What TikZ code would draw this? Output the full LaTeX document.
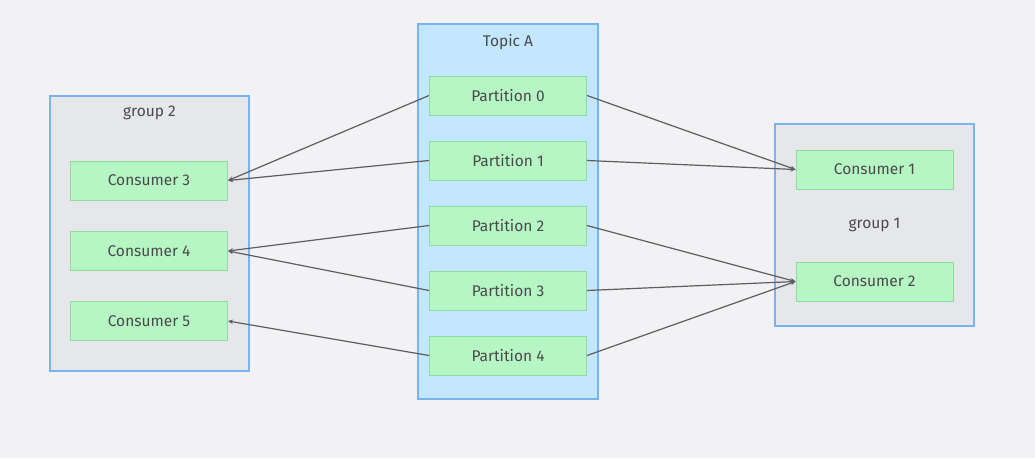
\documentclass[tikz,border=0pt]{standalone}
\usepackage{fontspec}
\setmainfont{Fira Sans}
\usetikzlibrary{arrows.meta}
\definecolor{bgc}{HTML}{F2F2F4}
\definecolor{grpfill}{HTML}{E6E7EA}
\definecolor{grpdraw}{HTML}{7AB4F0}
\definecolor{topicfill}{HTML}{C2E7FF}
\definecolor{greenfill}{HTML}{B6F5C4}
\definecolor{greendraw}{HTML}{8EDD9E}
\definecolor{txt}{HTML}{4A4A4A}
\definecolor{edgec}{HTML}{5E5E5E}
\tikzset{
  item/.style={draw=greendraw, fill=greenfill, line width=1pt, minimum width=157pt, minimum height=39pt, inner sep=0pt, text=txt, font=\fontsize{15.5}{18}\selectfont},
  lbl/.style={text=txt, font=\fontsize{15.5}{18}\selectfont},
  conn/.style={draw=edgec, line width=1.2pt, -{Stealth[length=5pt,width=4.5pt]}}
}
\begin{document}
\begin{tikzpicture}[x=1pt,y=-1pt]
\fill[bgc] (0,0) rectangle (1035,458);
\useasboundingbox (0,0) rectangle (1035,458);
% containers
\draw[draw=grpdraw, fill=grpfill, line width=1.2pt] (50,96) rectangle (249,371);
\draw[draw=grpdraw, fill=topicfill, line width=1.2pt] (418,24) rectangle (598,399);
\draw[draw=grpdraw, fill=grpfill, line width=1.2pt] (775,124) rectangle (974,326);
\node[lbl] (g2) at (149.5,113) {group 2};
\node[lbl] (ta) at (508,42) {Topic A};
\node[lbl] (g1) at (874.5,225) {group 1};
% partitions
\node[item] (p0) at (508,95.5) {Partition 0};
\node[item] (p1) at (508,160.5) {Partition 1};
\node[item] (p2) at (508,225.5) {Partition 2};
\node[item] (p3) at (508,290.5) {Partition 3};
\node[item] (p4) at (508,355.5) {Partition 4};
% consumers
\node[item] (c3) at (149,180.5) {Consumer 3};
\node[item] (c4) at (149,251) {Consumer 4};
\node[item] (c5) at (149,321) {Consumer 5};
\node[item] (c1) at (874.5,169.5) {Consumer 1};
\node[item] (c2) at (874.5,281.5) {Consumer 2};
% connectors
\draw[conn] (p0.west) -- (c3.east);
\draw[conn] (p1.west) -- (c3.east);
\draw[conn] (p2.west) -- (c4.east);
\draw[conn] (p3.west) -- (c4.east);
\draw[conn] (p4.west) -- (c5.east);
\draw[conn] (p0.east) -- (c1.west);
\draw[conn] (p1.east) -- (c1.west);
\draw[conn] (p2.east) -- (c2.west);
\draw[conn] (p3.east) -- (c2.west);
\draw[conn] (p4.east) -- (c2.west);
\end{tikzpicture}
\end{document}
